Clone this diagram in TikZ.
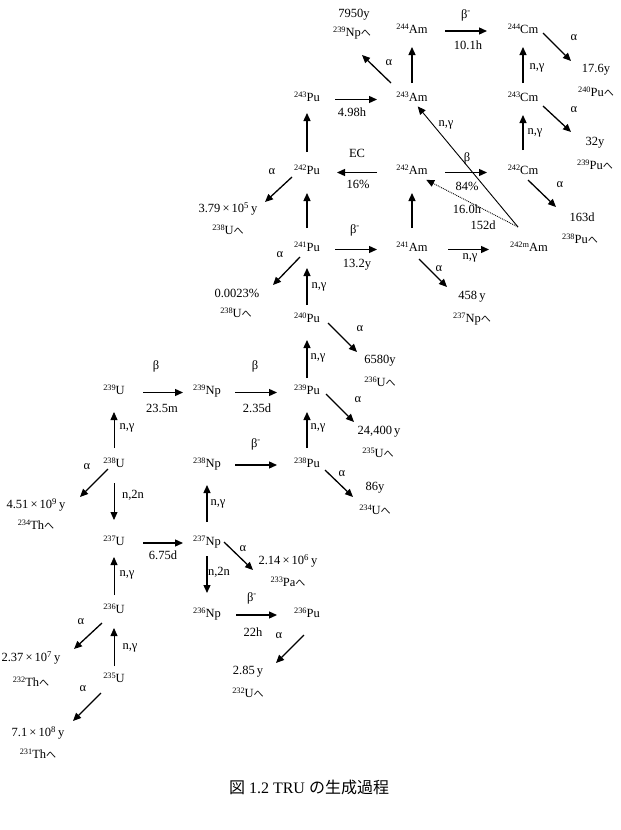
\documentclass[tikz,border=0pt]{standalone}
\usepackage{fontspec}
\setmainfont{Liberation Serif}
\newfontfamily\cjk{Noto Sans CJK JP}
\usetikzlibrary{arrows.meta}
\newcommand{\nuc}[2]{\raisebox{4pt}{\fontsize{8.3}{8.3}\selectfont #1}#2}
\newcommand{\he}{{\cjk\fontsize{10}{10}\selectfont へ}}
\begin{document}
\begin{tikzpicture}[x=1pt,y=-1pt,
  every node/.style={font=\fontsize{12.5}{14}\selectfont, inner sep=0pt},
  iso/.style={text height=9pt, text depth=5pt},
  arr/.style={-{Triangle[length=8pt,width=7pt]}, line width=1.3pt},
  uarr/.style={-{Triangle[length=8pt,width=7pt]}, line width=0.8pt},
  narr/.style={-{Triangle[length=8pt,width=7pt]}, line width=0.9pt},
  darr/.style={-{Triangle[length=8pt,width=7pt]}, line width=0.9pt, densely dotted},
]
\useasboundingbox (0,0) rectangle (621,830);

% isotopes
\node[iso] (Am244) at (412,31) {\nuc{244}{Am}};
\node[iso] (Cm244) at (523,31) {\nuc{244}{Cm}};
\node[iso] (Pu243) at (307,99.5) {\nuc{243}{Pu}};
\node[iso] (Am243) at (412,99.5) {\nuc{243}{Am}};
\node[iso] (Cm243) at (523,99.5) {\nuc{243}{Cm}};
\node[iso] (Pu242) at (307,172.5) {\nuc{242}{Pu}};
\node[iso] (Am242) at (412,172.5) {\nuc{242}{Am}};
\node[iso] (Cm242) at (523,172.5) {\nuc{242}{Cm}};
\node[iso] (Pu241) at (307,249.5) {\nuc{241}{Pu}};
\node[iso] (Am241) at (412,249.5) {\nuc{241}{Am}};
\node[iso] (Am242m) at (529,249.5) {\nuc{242m}{Am}};
\node[iso] (Pu240) at (307,320) {\nuc{240}{Pu}};
\node[iso] (U239) at (114,392.5) {\nuc{239}{U}};
\node[iso] (Np239) at (207,392.5) {\nuc{239}{Np}};
\node[iso] (Pu239) at (307,392.5) {\nuc{239}{Pu}};
\node[iso] (U238) at (114,465) {\nuc{238}{U}};
\node[iso] (Np238) at (207,465) {\nuc{238}{Np}};
\node[iso] (Pu238) at (307,465) {\nuc{238}{Pu}};
\node[iso] (U237) at (114,543) {\nuc{237}{U}};
\node[iso] (Np237) at (207,543) {\nuc{237}{Np}};
\node[iso] (U236) at (114,611) {\nuc{236}{U}};
\node[iso] (Np236) at (207,615) {\nuc{236}{Np}};
\node[iso] (Pu236) at (307,615) {\nuc{236}{Pu}};
\node[iso] (U235) at (114,680) {\nuc{235}{U}};

% decay products
\node (h1) at (354,15) {7950y};
\node (p1) at (352,33) {\nuc{239}{Np}\he};
\node (h2) at (596,70) {17.6y};
\node (p2) at (596,92) {\nuc{240}{Pu}\he};
\node (h3) at (595,143) {32y};
\node (p3) at (595,165) {\nuc{239}{Pu}\he};
\node (h4) at (582,217) {163d};
\node (p4) at (580,239) {\nuc{238}{Pu}\he};
\node (h5) at (228,209) {3.79\,×\,10\textsuperscript{5}\,y};
\node (p5) at (228,230) {\nuc{238}{U}\he};
\node (h6) at (472,297) {458\,y};
\node (p6) at (472,319) {\nuc{237}{Np}\he};
\node (h7) at (237,293) {0.0023\%};
\node (p7) at (236,313) {\nuc{238}{U}\he};
\node (h8) at (380,361) {6580y};
\node (p8) at (380,382) {\nuc{236}{U}\he};
\node (h9) at (379,432) {24,400\,y};
\node (p9) at (378,453) {\nuc{235}{U}\he};
\node (h10) at (375,488) {86y};
\node (p10) at (375,510) {\nuc{234}{U}\he};
\node (h11) at (36,505) {4.51\,×\,10\textsuperscript{9}\,y};
\node (p11) at (36,525) {\nuc{234}{Th}\he};
\node (h12) at (288,561) {2.14\,×\,10\textsuperscript{6}\,y};
\node (p12) at (288,582) {\nuc{233}{Pa}\he};
\node (h13) at (248,672) {2.85\,y};
\node (p13) at (248,693) {\nuc{232}{U}\he};
\node (h14) at (31,658) {2.37\,×\,10\textsuperscript{7}\,y};
\node (p14) at (31,682) {\nuc{232}{Th}\he};
\node (h15) at (38,733) {7.1\,×\,10\textsuperscript{8}\,y};
\node (p15) at (38,754) {\nuc{231}{Th}\he};

% reaction labels
\node (l1) at (466,15) {β\textsuperscript{-}};
\node (l2) at (468,45) {10.1h};
\node (l3) at (389,63) {α};
\node (l4) at (574,38) {α};
\node (l5) at (537,68) {n,γ};
\node (l6) at (352,112) {4.98h};
\node (l7) at (574,110) {α};
\node (l8) at (446,125) {n,γ};
\node (l9) at (535,133) {n,γ};
\node (l10) at (357,153) {EC};
\node (l11) at (358,184) {16\%};
\node (l12) at (467,158) {β};
\node (l13) at (467,186) {84\%};
\node (l14) at (560,185) {α};
\node (l15) at (467,209) {16.0h};
\node (l16) at (483,225) {152d};
\node (l17) at (272,172) {α};
\node (l18) at (355,230) {β\textsuperscript{-}};
\node (l19) at (357,265) {13.2y};
\node (l20) at (470,258) {n,γ};
\node (l21) at (439,269) {α};
\node (l22) at (280,255) {α};
\node (l23) at (319,287) {n,γ};
\node (l24) at (360,329) {α};
\node (l25) at (156,366) {β};
\node (l26) at (162,408) {23.5m};
\node (l27) at (255,366) {β};
\node (l28) at (257,408) {2.35d};
\node (l29) at (318,358) {n,γ};
\node (l30) at (358,400) {α};
\node (l31) at (127,428) {n,γ};
\node (l32) at (256,444) {β\textsuperscript{-}};
\node (l33) at (318,428) {n,γ};
\node (l34) at (342,474) {α};
\node (l35) at (87,467) {α};
\node (l36) at (133,495) {n,2n};
\node (l37) at (163,555) {6.75d};
\node (l38) at (218,504) {n,γ};
\node (l39) at (243,549) {α};
\node (l40) at (219,572) {n,2n};
\node (l41) at (127,575) {n,γ};
\node (l42) at (252,598) {β\textsuperscript{-}};
\node (l43) at (253,632) {22h};
\node (l44) at (81,622) {α};
\node (l45) at (279,636) {α};
\node (l46) at (130,648) {n,γ};
\node (l47) at (83,689) {α};

% caption
\node (cap) at (309,787) {\fontsize{16}{18}\selectfont{\cjk 図} 1.2 TRU {\cjk の生成過程}};

% vertical arrows
\draw[arr, shorten <=16.5pt, shorten >=16pt] (Am243.center) -- (Am244.center);
\draw[arr, shorten <=16.5pt, shorten >=16pt] (Cm243.center) -- (Cm244.center);
\draw[arr, shorten <=22.5pt, shorten >=15.5pt] (Cm242.center) -- (Cm243.center);
\draw[arr, shorten <=21.5pt, shorten >=20.5pt] (Am241.center) -- (Am242.center);
\draw[arr, shorten <=20.5pt, shorten >=13.5pt] (Pu242.center) -- (Pu243.center);
\draw[arr, shorten <=21.5pt, shorten >=20.5pt] (Pu241.center) -- (Pu242.center);
\draw[arr, shorten <=15pt, shorten >=18.5pt] (Pu240.center) -- (Pu241.center);
\draw[arr, shorten <=14.5pt, shorten >=20pt] (Pu239.center) -- (Pu240.center);
\draw[arr, shorten <=17pt, shorten >=19.5pt] (Pu238.center) -- (Pu239.center);
\draw[uarr, shorten <=17pt, shorten >=19.5pt] (U238.center) -- (U239.center);
\draw[uarr, shorten <=18pt, shorten >=23pt] (U238.center) -- (U237.center);
\draw[uarr, shorten <=16pt, shorten >=14pt] (U236.center) -- (U237.center);
\draw[uarr, shorten <=14pt, shorten >=17pt] (U235.center) -- (U236.center);
\draw[arr, shorten <=21pt, shorten >=20pt] (Np237.center) -- (Np238.center);
\draw[arr, shorten <=13pt, shorten >=22pt] (Np237.center) -- (Np236.center);

% horizontal arrows
\draw[arr, shorten <=33pt, shorten >=36pt] (Am244.center) -- (Cm244.center);
\draw[arr, shorten <=28pt, shorten >=35pt] (Pu243.center) -- (Am243.center);
\draw[arr, shorten <=35pt, shorten >=30pt] (Am242.center) -- (Pu242.center);
\draw[arr, shorten <=33pt, shorten >=36pt] (Am242.center) -- (Cm242.center);
\draw[arr, shorten <=28pt, shorten >=35pt] (Pu241.center) -- (Am241.center);
\draw[arr, shorten <=36pt, shorten >=40pt] (Am241.center) -- (Am242m.center);
\draw[arr, shorten <=29pt, shorten >=24pt] (U239.center) -- (Np239.center);
\draw[arr, shorten <=28pt, shorten >=30pt] (Np239.center) -- (Pu239.center);
\draw[arr, shorten <=28pt, shorten >=30pt] (Np238.center) -- (Pu238.center);
\draw[arr, shorten <=29pt, shorten >=24pt] (U237.center) -- (Np237.center);
\draw[arr, shorten <=29pt, shorten >=30pt] (Np236.center) -- (Pu236.center);

% diagonal decay arrows
\coordinate (d1s) at (391,83);   \coordinate (d1e) at (362,55);
\coordinate (d2s) at (543,33);   \coordinate (d2e) at (571,61);
\coordinate (d3s) at (543,106);  \coordinate (d3e) at (571,132);
\coordinate (d4s) at (528,180);  \coordinate (d4e) at (556,207);
\coordinate (d5s) at (292,177);  \coordinate (d5e) at (265,202);
\coordinate (d6s) at (419,259);  \coordinate (d6e) at (447,287);
\coordinate (d7s) at (300,257);  \coordinate (d7e) at (273,285);
\coordinate (d8s) at (328,323);  \coordinate (d8e) at (357,352);
\coordinate (d9s) at (326,394);  \coordinate (d9e) at (354,422);
\coordinate (d10s) at (325,470); \coordinate (d10e) at (353,497);
\coordinate (d11s) at (108,469); \coordinate (d11e) at (80,497);
\coordinate (d12s) at (224,542); \coordinate (d12e) at (253,570);
\coordinate (d13s) at (304,635); \coordinate (d13e) at (276,663);
\coordinate (d14s) at (102,623); \coordinate (d14e) at (74,649);
\coordinate (d15s) at (101,693); \coordinate (d15e) at (73,721);
\foreach \i in {1,...,15} {\draw[arr] (d\i s) -- (d\i e);}

% arrows from 242mAm
\coordinate (ms) at (518,227);
\draw[narr, shorten >=9pt] (ms) -- (Am243.center);
\draw[darr, shorten >=16pt] (ms) -- (Am242.center);
\end{tikzpicture}
\end{document}
